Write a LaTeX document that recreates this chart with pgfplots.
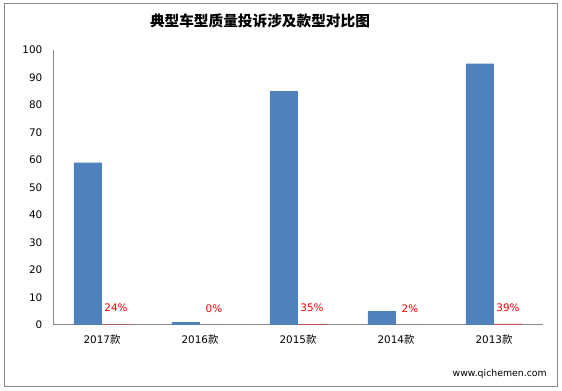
\documentclass[border=0pt]{standalone}
\usepackage{pgfplots}
\pgfplotsset{compat=1.18}
\usepackage{fontspec}
\setmainfont{DejaVu Sans}
\newfontfamily\cjk{Noto Sans CJK SC}
\definecolor{bluec}{RGB}{79,129,189}
\definecolor{redc}{RGB}{192,80,77}
\definecolor{framec}{RGB}{134,134,134}
\begin{document}
\begin{tikzpicture}
\path[use as bounding box] (0,0) rectangle (421.5pt,293.25pt);
\draw[framec, line width=0.75pt] (3pt,3pt) rectangle (417.75pt,290.25pt);
\node[font=\cjk\bfseries\fontsize{11pt}{13pt}\selectfont] at (195pt,277.5pt) {典型车型质量投诉涉及款型对比图};
\begin{axis}[
  at={(39.75pt,49.5pt)}, anchor=south west,
  scale only axis, width=367.5pt, height=206.25pt,
  xmin=-0.5, xmax=4.5, ymin=0, ymax=100,
  enlargelimits=false,
  axis lines*=left,
  axis line style={draw=framec, line width=0.75pt},
  major tick length=0pt,
  xtick={0,1,2,3,4},
  xticklabels={2017{\cjk 款},2016{\cjk 款},2015{\cjk 款},2014{\cjk 款},2013{\cjk 款}},
  ytick={0,10,...,100},
  tick label style={font=\fontsize{7.8pt}{9pt}\selectfont, text=black},
  /pgf/number format/assume math mode=true,
  yticklabel style={xshift=-4.5pt},
  xticklabel style={yshift=-4pt},
  ybar=0pt, bar width=21pt,
  clip=false,
]
\addplot[fill=bluec, draw=none] coordinates {(0,59) (1,1) (2,85) (3,5) (4,95)};
\addplot[fill=redc, draw=none,
  point meta=explicit symbolic,
  nodes near coords,
  nodes near coords style={anchor=center, yshift=12.5pt, text=red, font=\fontsize{7.8pt}{9pt}\selectfont}]
  coordinates {(0,0.24)[24\%] (1,0)[0\%] (2,0.35)[35\%] (3,0.02)[2\%] (4,0.39)[39\%]};
\end{axis}
\node[font=\fontsize{7pt}{8pt}\selectfont, anchor=west] at (336pt,12.5pt) {www.qichemen.com};
\end{tikzpicture}
\end{document}
